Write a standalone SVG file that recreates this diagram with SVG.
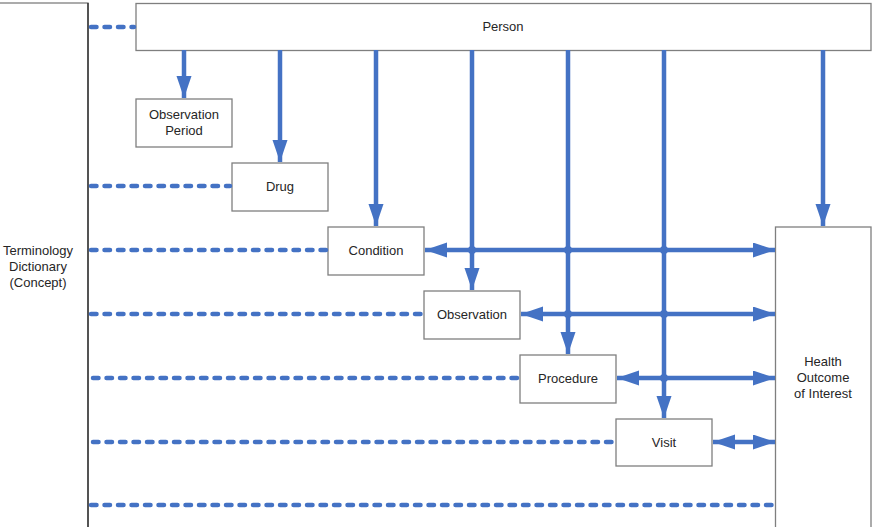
<svg xmlns="http://www.w3.org/2000/svg" width="875" height="527" viewBox="0 0 875 527">
  <style>
    .box { fill: #ffffff; stroke: #7f7f7f; stroke-width: 1.3; }
    .edge { stroke: #262626; stroke-width: 1.3; fill: none; }
    .lbl { font-family: "Liberation Sans", Arial, sans-serif; font-size: 13px; fill: #262626; text-anchor: middle; dominant-baseline: central; }
    .rel { stroke: #4472c4; stroke-width: 4.5; fill: none; }
    .dash { stroke: #4472c4; stroke-width: 4.5; fill: none; stroke-dasharray: 5.5 8; stroke-linecap: round; }
    .dot { fill: #4472c4; }
  </style>
  <defs>
    <marker id="head" markerUnits="userSpaceOnUse" markerWidth="24" markerHeight="16" refX="22" refY="7.5" orient="auto-start-reverse">
      <path d="M0,0 L22,7.5 L0,15 Z" fill="#4472c4"/>
    </marker>
  </defs>

  <rect width="875" height="527" fill="#ffffff"/>

  <!-- vocabulary column on the left -->
  <g id="terminology">
    <rect class="box" x="-10" y="3" width="98" height="540"/>
    <line class="edge" x1="88" y1="3" x2="88" y2="527"/>
    <text class="lbl" x="38" y="250">Terminology</text>
    <text class="lbl" x="38" y="266">Dictionary</text>
    <text class="lbl" x="38" y="282">(Concept)</text>
  </g>

  <g id="person">
    <rect class="box" x="136" y="3.5" width="735" height="47"/>
    <text class="lbl" x="503" y="26.5">Person</text>
  </g>

  <g id="observation-period">
    <rect class="box" x="136" y="99" width="96" height="48"/>
    <text class="lbl" x="184" y="114.5">Observation</text>
    <text class="lbl" x="184" y="130.5">Period</text>
  </g>

  <g id="drug">
    <rect class="box" x="232" y="163" width="96" height="48"/>
    <text class="lbl" x="280" y="186.5">Drug</text>
  </g>

  <g id="condition">
    <rect class="box" x="328" y="227" width="96" height="48"/>
    <text class="lbl" x="376" y="250">Condition</text>
  </g>

  <g id="observation">
    <rect class="box" x="424" y="291" width="96" height="48"/>
    <text class="lbl" x="472" y="314">Observation</text>
  </g>

  <g id="procedure">
    <rect class="box" x="520" y="355" width="96" height="48"/>
    <text class="lbl" x="568" y="378">Procedure</text>
  </g>

  <g id="visit">
    <rect class="box" x="616" y="419" width="96" height="47"/>
    <text class="lbl" x="664" y="442">Visit</text>
  </g>

  <g id="health-outcome">
    <rect class="box" x="775.5" y="227" width="95.5" height="320"/>
    <text class="lbl" x="823" y="361.5">Health</text>
    <text class="lbl" x="823" y="377.5">Outcome</text>
    <text class="lbl" x="823" y="393.5">of Interest</text>
  </g>

  <g id="connectors">
    <!-- concept references -->
    <line class="dash" x1="91" y1="27" x2="134" y2="27"/>
    <line class="dash" x1="91" y1="186" x2="230" y2="186"/>
    <line class="dash" x1="91" y1="250" x2="326" y2="250"/>
    <line class="dash" x1="91" y1="314" x2="422" y2="314"/>
    <line class="dash" x1="93" y1="378" x2="518" y2="378"/>
    <line class="dash" x1="93" y1="442" x2="614" y2="442"/>
    <line class="dash" x1="91" y1="505" x2="774" y2="505"/>

    <!-- person to each table -->
    <line class="rel" x1="184" y1="50" x2="184" y2="98" marker-end="url(#head)"/>
    <line class="rel" x1="280" y1="50" x2="280" y2="162" marker-end="url(#head)"/>
    <line class="rel" x1="376" y1="50" x2="376" y2="226" marker-end="url(#head)"/>
    <line class="rel" x1="472" y1="50" x2="472" y2="290" marker-end="url(#head)"/>
    <line class="rel" x1="568" y1="50" x2="568" y2="354" marker-end="url(#head)"/>
    <line class="rel" x1="664" y1="50" x2="664" y2="418" marker-end="url(#head)"/>
    <line class="rel" x1="823" y1="50" x2="823" y2="226" marker-end="url(#head)"/>

    <!-- tables to health outcome -->
    <line class="rel" x1="425" y1="250" x2="775" y2="250" marker-start="url(#head)" marker-end="url(#head)"/>
    <line class="rel" x1="521" y1="314" x2="775" y2="314" marker-start="url(#head)" marker-end="url(#head)"/>
    <line class="rel" x1="617" y1="378" x2="775" y2="378" marker-start="url(#head)" marker-end="url(#head)"/>
    <line class="rel" x1="713" y1="442" x2="775" y2="442" marker-start="url(#head)" marker-end="url(#head)"/>

    <!-- junctions -->
    <circle class="dot" cx="472" cy="250" r="4"/>
    <circle class="dot" cx="568" cy="250" r="4"/>
    <circle class="dot" cx="664" cy="250" r="4"/>
    <circle class="dot" cx="568" cy="314" r="4"/>
    <circle class="dot" cx="664" cy="314" r="4"/>
    <circle class="dot" cx="664" cy="378" r="4"/>
  </g>
</svg>
